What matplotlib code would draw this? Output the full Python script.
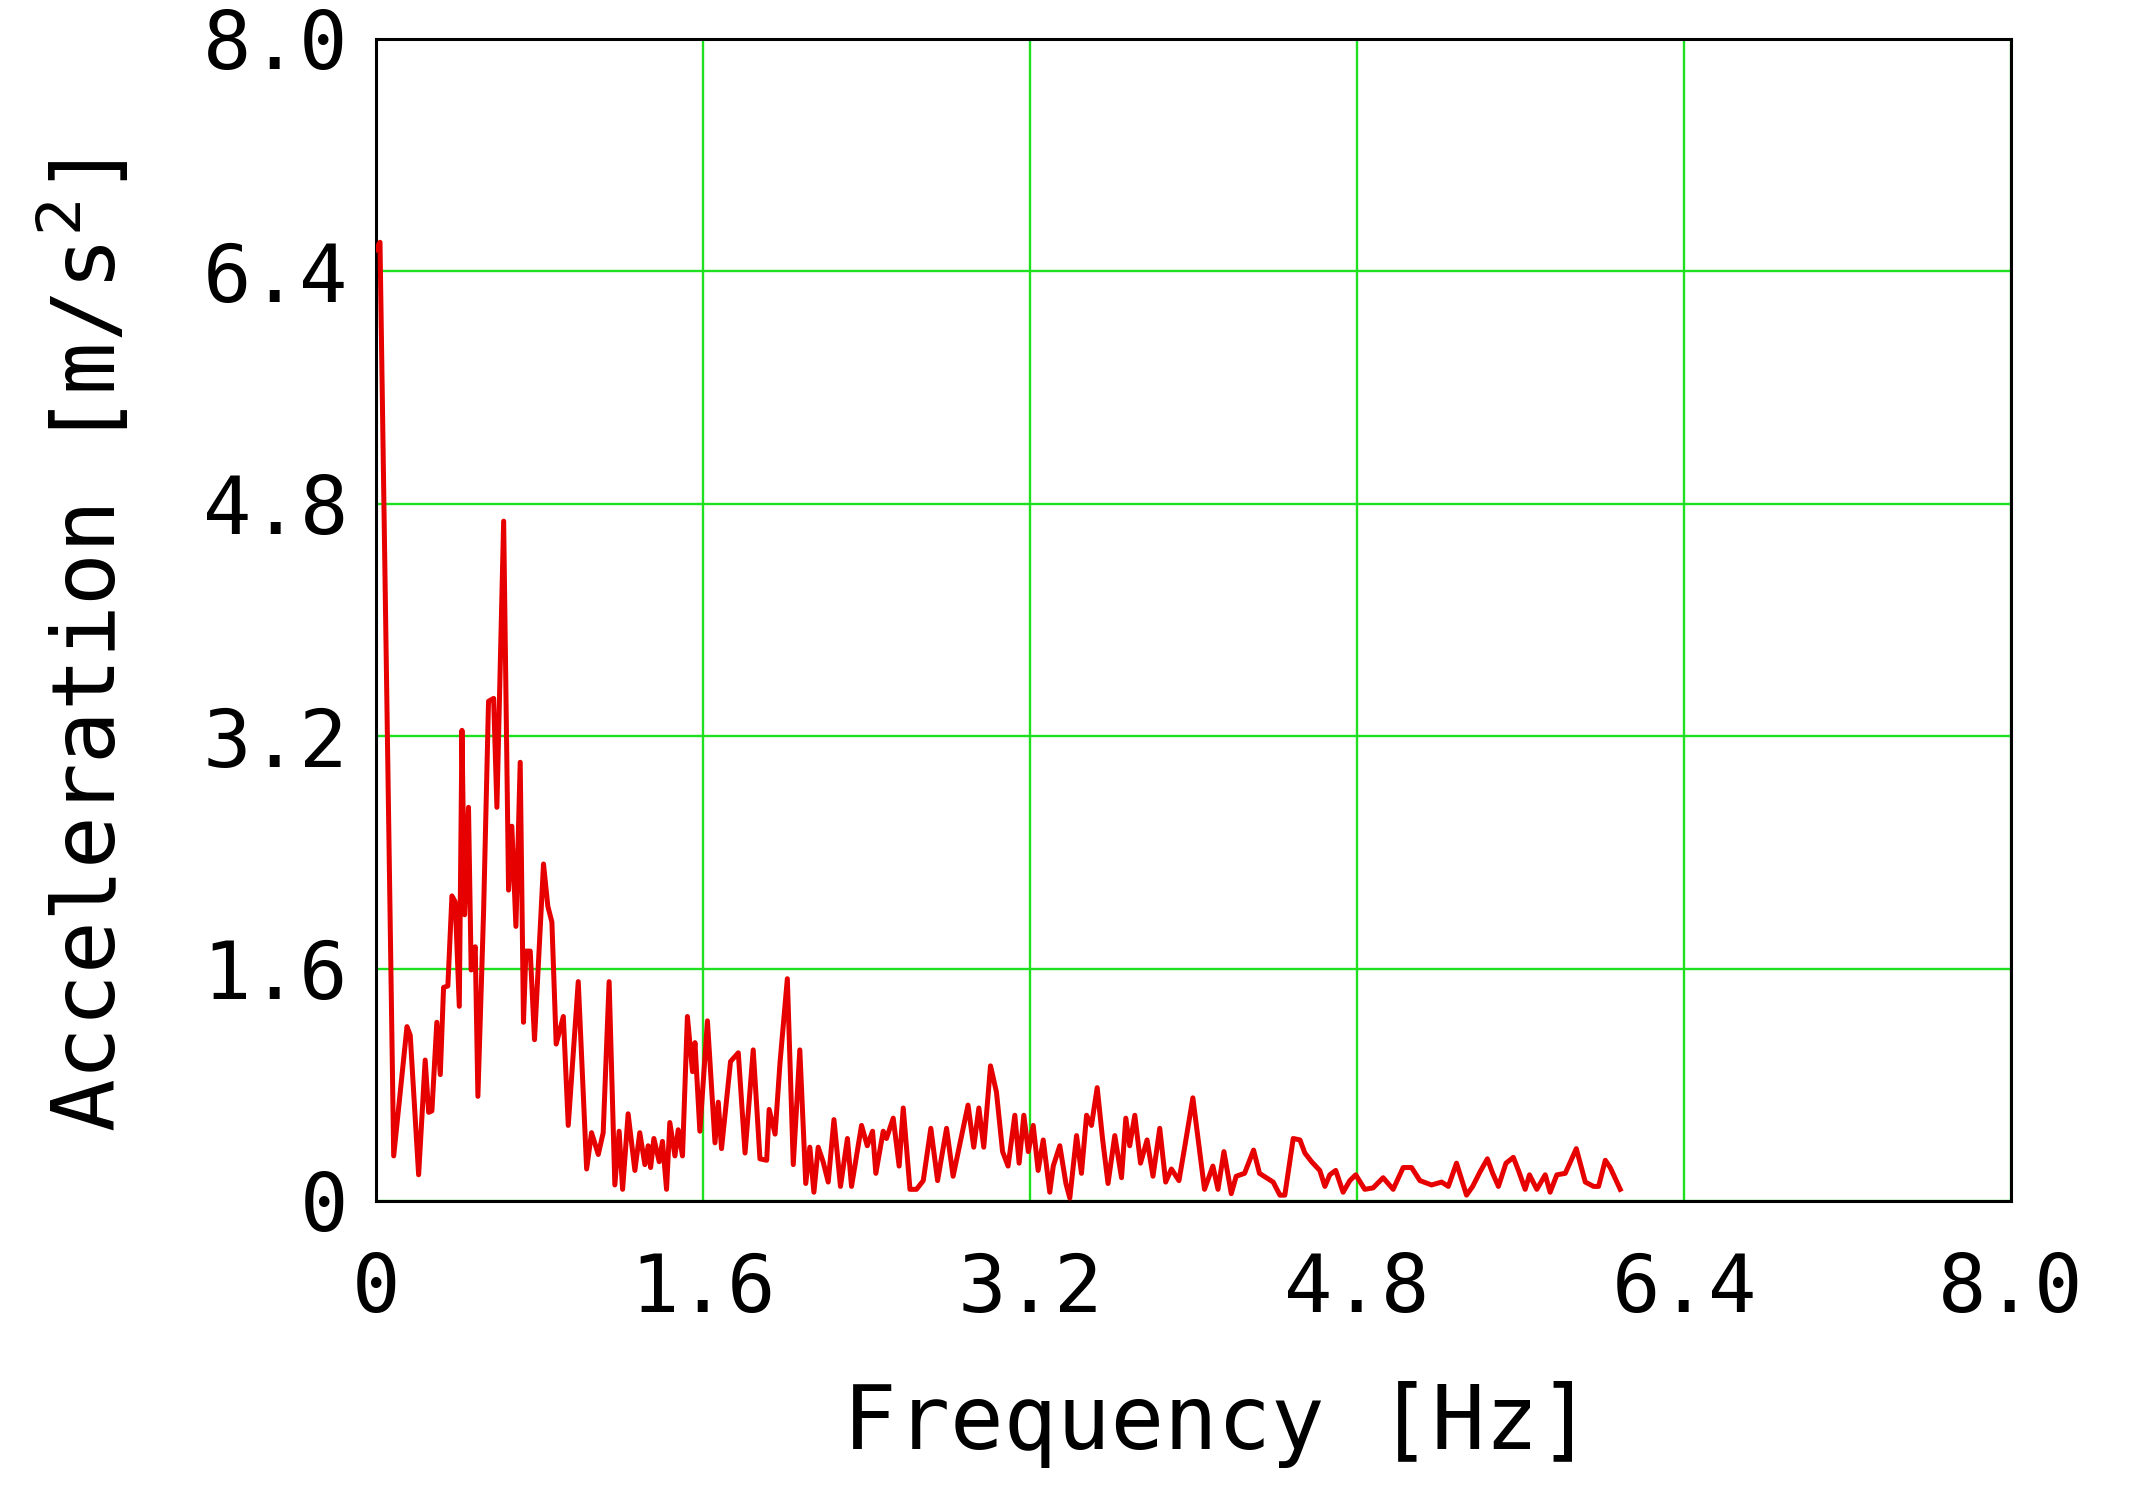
import matplotlib.pyplot as plt

# values
freq_hz = [
    0.0, 0.02, 0.087, 0.152, 0.168, 0.209, 0.241, 0.258, 0.274, 0.298,
    0.315, 0.331, 0.352, 0.372, 0.388, 0.408, 0.421, 0.434, 0.453, 0.466,
    0.486, 0.499, 0.527, 0.551, 0.576, 0.592, 0.625, 0.649, 0.665, 0.685,
    0.706, 0.722, 0.734, 0.755, 0.776, 0.820, 0.841, 0.861, 0.882, 0.917,
    0.941, 0.990, 1.031, 1.055, 1.088, 1.112, 1.141, 1.169, 1.190, 1.207,
    1.234, 1.267, 1.291, 1.316, 1.332, 1.344, 1.360, 1.386, 1.402, 1.422,
    1.438, 1.463, 1.479, 1.500, 1.524, 1.549, 1.561, 1.585, 1.622, 1.659,
    1.675, 1.691, 1.735, 1.773, 1.806, 1.846, 1.879, 1.912, 1.924, 1.953,
    1.977, 2.013, 2.042, 2.074, 2.103, 2.123, 2.143, 2.164, 2.188, 2.213,
    2.241, 2.273, 2.307, 2.327, 2.376, 2.404, 2.430, 2.446, 2.482, 2.498,
    2.531, 2.560, 2.580, 2.613, 2.645, 2.678, 2.715, 2.748, 2.792, 2.824,
    2.857, 2.897, 2.925, 2.950, 2.974, 3.007, 3.036, 3.066, 3.093, 3.126,
    3.147, 3.170, 3.192, 3.216, 3.240, 3.265, 3.297, 3.314, 3.346, 3.376,
    3.395, 3.428, 3.452, 3.477, 3.501, 3.529, 3.555, 3.582, 3.615, 3.648,
    3.669, 3.688, 3.713, 3.741, 3.773, 3.802, 3.835, 3.864, 3.892, 3.929,
    3.957, 3.997, 4.054, 4.095, 4.120, 4.149, 4.185, 4.209, 4.250, 4.294,
    4.323, 4.390, 4.423, 4.447, 4.488, 4.521, 4.545, 4.578, 4.618, 4.643,
    4.667, 4.696, 4.732, 4.765, 4.794, 4.838, 4.879, 4.928, 4.977, 5.026,
    5.067, 5.108, 5.165, 5.214, 5.247, 5.287, 5.336, 5.366, 5.402, 5.438,
    5.464, 5.492, 5.529, 5.565, 5.590, 5.623, 5.644, 5.680, 5.721, 5.745,
    5.778, 5.819, 5.873, 5.917, 5.958, 5.982, 6.015, 6.039, 6.088,
]
accel = [
    6.55, 6.60, 0.31, 1.20, 1.14, 0.18, 0.97, 0.61, 0.62, 1.23,
    0.87, 1.47, 1.48, 2.10, 2.06, 1.34, 3.24, 1.97, 2.71, 1.59,
    1.75, 0.72, 2.00, 3.44, 3.46, 2.71, 4.68, 2.14, 2.58, 1.89,
    3.02, 1.23, 1.72, 1.72, 1.11, 2.32, 2.03, 1.92, 1.08, 1.27,
    0.52, 1.51, 0.22, 0.47, 0.32, 0.47, 1.51, 0.11, 0.48, 0.08,
    0.60, 0.21, 0.47, 0.25, 0.38, 0.23, 0.43, 0.27, 0.41, 0.08,
    0.54, 0.31, 0.49, 0.31, 1.27, 0.89, 1.09, 0.48, 1.24, 0.40,
    0.68, 0.36, 0.96, 1.02, 0.33, 1.04, 0.29, 0.28, 0.63, 0.46,
    0.95, 1.53, 0.25, 1.04, 0.12, 0.37, 0.06, 0.37, 0.27, 0.13,
    0.56, 0.10, 0.43, 0.10, 0.52, 0.38, 0.48, 0.19, 0.48, 0.43,
    0.57, 0.24, 0.64, 0.08, 0.08, 0.14, 0.50, 0.14, 0.50, 0.17,
    0.39, 0.66, 0.37, 0.64, 0.37, 0.93, 0.75, 0.34, 0.24, 0.59,
    0.26, 0.59, 0.34, 0.52, 0.21, 0.42, 0.06, 0.24, 0.38, 0.12,
    0.02, 0.45, 0.19, 0.59, 0.52, 0.78, 0.43, 0.12, 0.45, 0.16,
    0.57, 0.38, 0.59, 0.26, 0.42, 0.17, 0.50, 0.13, 0.22, 0.14,
    0.37, 0.71, 0.08, 0.24, 0.08, 0.34, 0.05, 0.17, 0.19, 0.35,
    0.19, 0.13, 0.04, 0.04, 0.43, 0.42, 0.33, 0.27, 0.21, 0.10,
    0.18, 0.21, 0.06, 0.14, 0.18, 0.08, 0.09, 0.16, 0.08, 0.23,
    0.23, 0.14, 0.11, 0.13, 0.10, 0.26, 0.04, 0.10, 0.20, 0.29,
    0.19, 0.10, 0.26, 0.30, 0.21, 0.08, 0.18, 0.08, 0.18, 0.06,
    0.18, 0.19, 0.36, 0.13, 0.10, 0.10, 0.28, 0.23, 0.08,
]

tick_vals = [0, 1.6, 3.2, 4.8, 6.4, 8.0]
tick_labels = ['0', '1.6', '3.2', '4.8', '6.4', '8.0']

plt.rcParams['font.family'] = ['DejaVu Sans Mono']

fig = plt.figure(figsize=(21.31, 15.04), dpi=100)
ax = fig.add_axes([0.1764, 0.2015, 0.7673, 0.7726])

ax.plot(freq_hz, accel, color='#e60000', linewidth=3.6, zorder=3)

ax.set_xlim(0, 8)
ax.set_ylim(0, 8)
ax.set_xticks(tick_vals)
ax.set_xticklabels(tick_labels)
ax.set_yticks(tick_vals)
ax.set_yticklabels(tick_labels)
ax.tick_params(axis='both', length=0, labelsize=58)
ax.tick_params(axis='x', pad=36)
ax.tick_params(axis='y', pad=20)

ax.grid(True, color='#1ee01e', linewidth=1.7)
ax.set_axisbelow(True)
for s in ax.spines.values():
    s.set_linewidth(2.2)
    s.set_color('black')

ax.set_xlabel('Frequency [Hz]', fontsize=64)
ax.set_ylabel('Acceleration [m/s$^2$]', fontsize=63)
ax.xaxis.set_label_coords(0.515, -0.155)
ax.yaxis.set_label_coords(-0.148, 0.478)

fig.savefig('out.png', dpi=100)
